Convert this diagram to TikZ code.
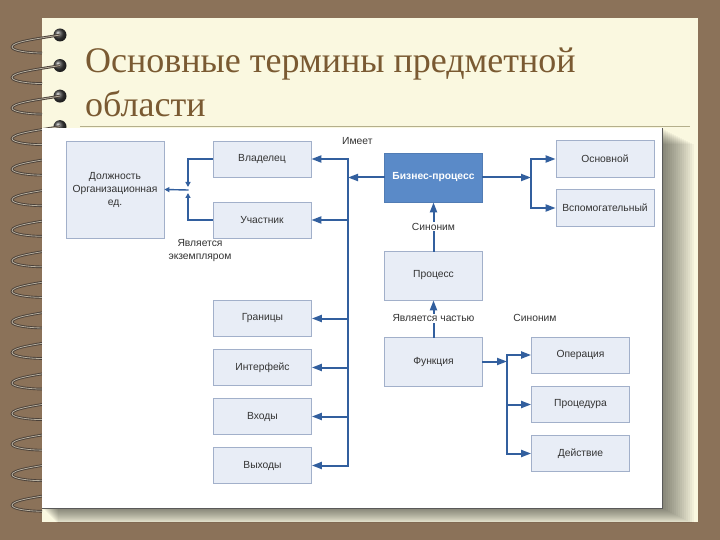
\documentclass[tikz,border=0pt]{standalone}
\usepackage{fontspec}
\setmainfont{Liberation Serif}
\setsansfont{Liberation Sans}
\usepackage{xcolor}
\usepackage{tikz}
\usetikzlibrary{arrows.meta,calc}
\definecolor{deskBrown}{HTML}{8B7259}
\definecolor{paperCream}{HTML}{FAF8E0}
\definecolor{titleBrown}{HTML}{7A5A32}
\definecolor{ruleOlive}{HTML}{B4AF8C}
\definecolor{boxFill}{HTML}{E8EDF6}
\definecolor{boxLine}{HTML}{A2B0CA}
\definecolor{mainFill}{HTML}{5A8AC8}
\definecolor{flowBlue}{HTML}{325F9E}
\definecolor{textGray}{HTML}{333333}
\definecolor{wireDark}{HTML}{4A4038}
\definecolor{wireLight}{HTML}{B8B0A0}
\newcommand{\boxWidth}{98}
\newcommand{\boxHeight}{36}
\newcommand{\ringCount}{15}
\newcommand{\ringStart}{47}
\newcommand{\ringDistance}{30.55}
\newcommand{\leftBoxes}{borders/318.5/Границы, interface/367.5/Интерфейс, inputs/416.5/Входы, outputs/465.5/Выходы}
\newcommand{\rightBoxes}{operation/355/Операция, procedure/404.5/Процедура, action/453.5/Действие}
\tikzset{
	termBox/.style={draw=boxLine, fill=boxFill, line width=0.8pt, minimum width=\boxWidth pt, minimum height=\boxHeight pt, inner sep=2pt, align=center, text=textGray, font=\sffamily\fontsize{10.3}{13}\selectfont},
	mainBox/.style={termBox, draw=mainFill!90!black, fill=mainFill, text=white, minimum height=49pt, font=\sffamily\bfseries\fontsize{10.3}{13}\selectfont},
	flowLine/.style={draw=flowBlue, line width=2pt, line cap=rect},
	flowArrow/.style={flowLine, -{Triangle[length=10pt,width=7pt]}},
	smallArrow/.style={flowLine, line width=1.4pt, -{Triangle[length=5pt,width=5pt]}},
	relLabel/.style={inner sep=1pt, align=center, text=textGray, font=\sffamily\fontsize{10.3}{13}\selectfont}
}
\begin{document}
\begin{tikzpicture}[x=1pt,y=-1pt]
	\useasboundingbox (0,0) rectangle (720,540);
	\fill[deskBrown] (0,0) rectangle (720,540);
	\fill[paperCream] (42,18) rectangle (698,522);
	
	% spiral binding
	\foreach \ringNumber in {0,...,\ringCount}
	{
		\pgfmathsetmacro{\ringY}{\ringStart + \ringNumber * \ringDistance}
		\shade[ball color=black!75] (60,\ringY-12) circle (6.5);
		\draw[wireDark, line width=2.6pt] (60,\ringY-12) .. controls (35,\ringY-8) and (12,\ringY-5) .. (12,\ringY) .. controls (12,\ringY+4) and (30,\ringY+6) .. (42,\ringY+6);
		\draw[wireLight, line width=0.8pt] (60,\ringY-12) .. controls (35,\ringY-8) and (12,\ringY-5) .. (12,\ringY) .. controls (12,\ringY+4) and (30,\ringY+6) .. (42,\ringY+6);
	}
	
	\begin{scope}
		\clip (42,18) rectangle (698,522);
		\foreach \shadowStep in {1,...,16}
		{
			\fill[black, opacity=0.035] (42+\shadowStep,128+\shadowStep) rectangle (662+2*\shadowStep,508+\shadowStep);
		}
	\end{scope}
	\fill[white] (42,128) rectangle (662,508);
	\draw[black!65, line width=0.8pt] (42,508) -- (662,508) -- (662,128);
	\draw[ruleOlive, line width=1.5pt] (80,126.5) -- (690,126.5);
	
	\node[anchor=north west, inner sep=0, align=left, text=titleBrown, font=\fontsize{36}{44}\selectfont] (title) at (85,48) {Основные термины предметной\\области};
	
	\node[termBox, minimum height=97pt] (post) at (115,189.5) {Должность\\Организационная\\ед.};
	\node[termBox] (owner) at (262,159) {Владелец};
	\node[termBox] (member) at (262,220) {Участник};
	\node[mainBox] (business) at (433.5,177.5) {Бизнес-процесс};
	\node[termBox, minimum height=37pt] (primary) at (605,159) {Основной};
	\node[termBox, minimum height=37pt] (secondary) at (605,208) {Вспомогательный};
	\node[termBox, minimum height=49pt] (process) at (433.5,275.5) {Процесс};
	\node[termBox, minimum height=49pt] (function) at (433.5,361.5) {Функция};
	\foreach \boxName/\boxY/\boxText in \leftBoxes
	{
		\node[termBox] (\boxName) at (262.5,\boxY) {\boxText};
	}
	\foreach \boxName/\boxY/\boxText in \rightBoxes
	{
		\node[termBox] (\boxName) at (580.5,\boxY) {\boxText};
	}
	
	\coordinate (trunk) at (348,300);
	\coordinate (instanceJoin) at (188,190);
	\coordinate (kindJoin) at (531,177.5);
	\coordinate (actionJoin) at (507,361.5);
	
	\draw[flowArrow] (trunk |- outputs.east) |- (owner.east);
	\draw[flowArrow] (business.west) -- (business.west -| trunk);
	\foreach \boxName in {member, borders, interface, inputs, outputs}
	{
		\draw[flowArrow] (trunk |- \boxName.east) -- (\boxName.east);
	}
	\node[relLabel, anchor=west] (hasLabel) at (341,141) {Имеет};
	
	\draw[smallArrow, shorten >=3pt] (owner.west) -| (instanceJoin);
	\draw[smallArrow, shorten >=3pt] (member.west) -| (instanceJoin);
	\draw[smallArrow] (instanceJoin) -- (post.east);
	\node[relLabel] (instanceLabel) at (200,251) {Является\\экземпляром};
	
	\draw[flowArrow] (business.east) -- (kindJoin);
	\draw[flowArrow] (kindJoin) |- (primary.west);
	\draw[flowArrow] (kindJoin) |- (secondary.west);
	
	\draw[flowArrow] (process.north) -- node[relLabel, fill=white] (synonymUpLabel) {Синоним} (business.south);
	\draw[flowArrow] (function.north) -- node[relLabel, fill=white] (partLabel) {Является частью} (process.south);
	\node[relLabel] (synonymLabel) at (535,318) {Синоним};
	
	\draw[flowArrow] (function.east) -- (actionJoin);
	\draw[flowLine] (actionJoin |- operation.west) -- (actionJoin |- action.west);
	\foreach \boxName in {operation, procedure, action}
	{
		\draw[flowArrow] (actionJoin |- \boxName.west) -- (\boxName.west);
	}
\end{tikzpicture}
\end{document}
